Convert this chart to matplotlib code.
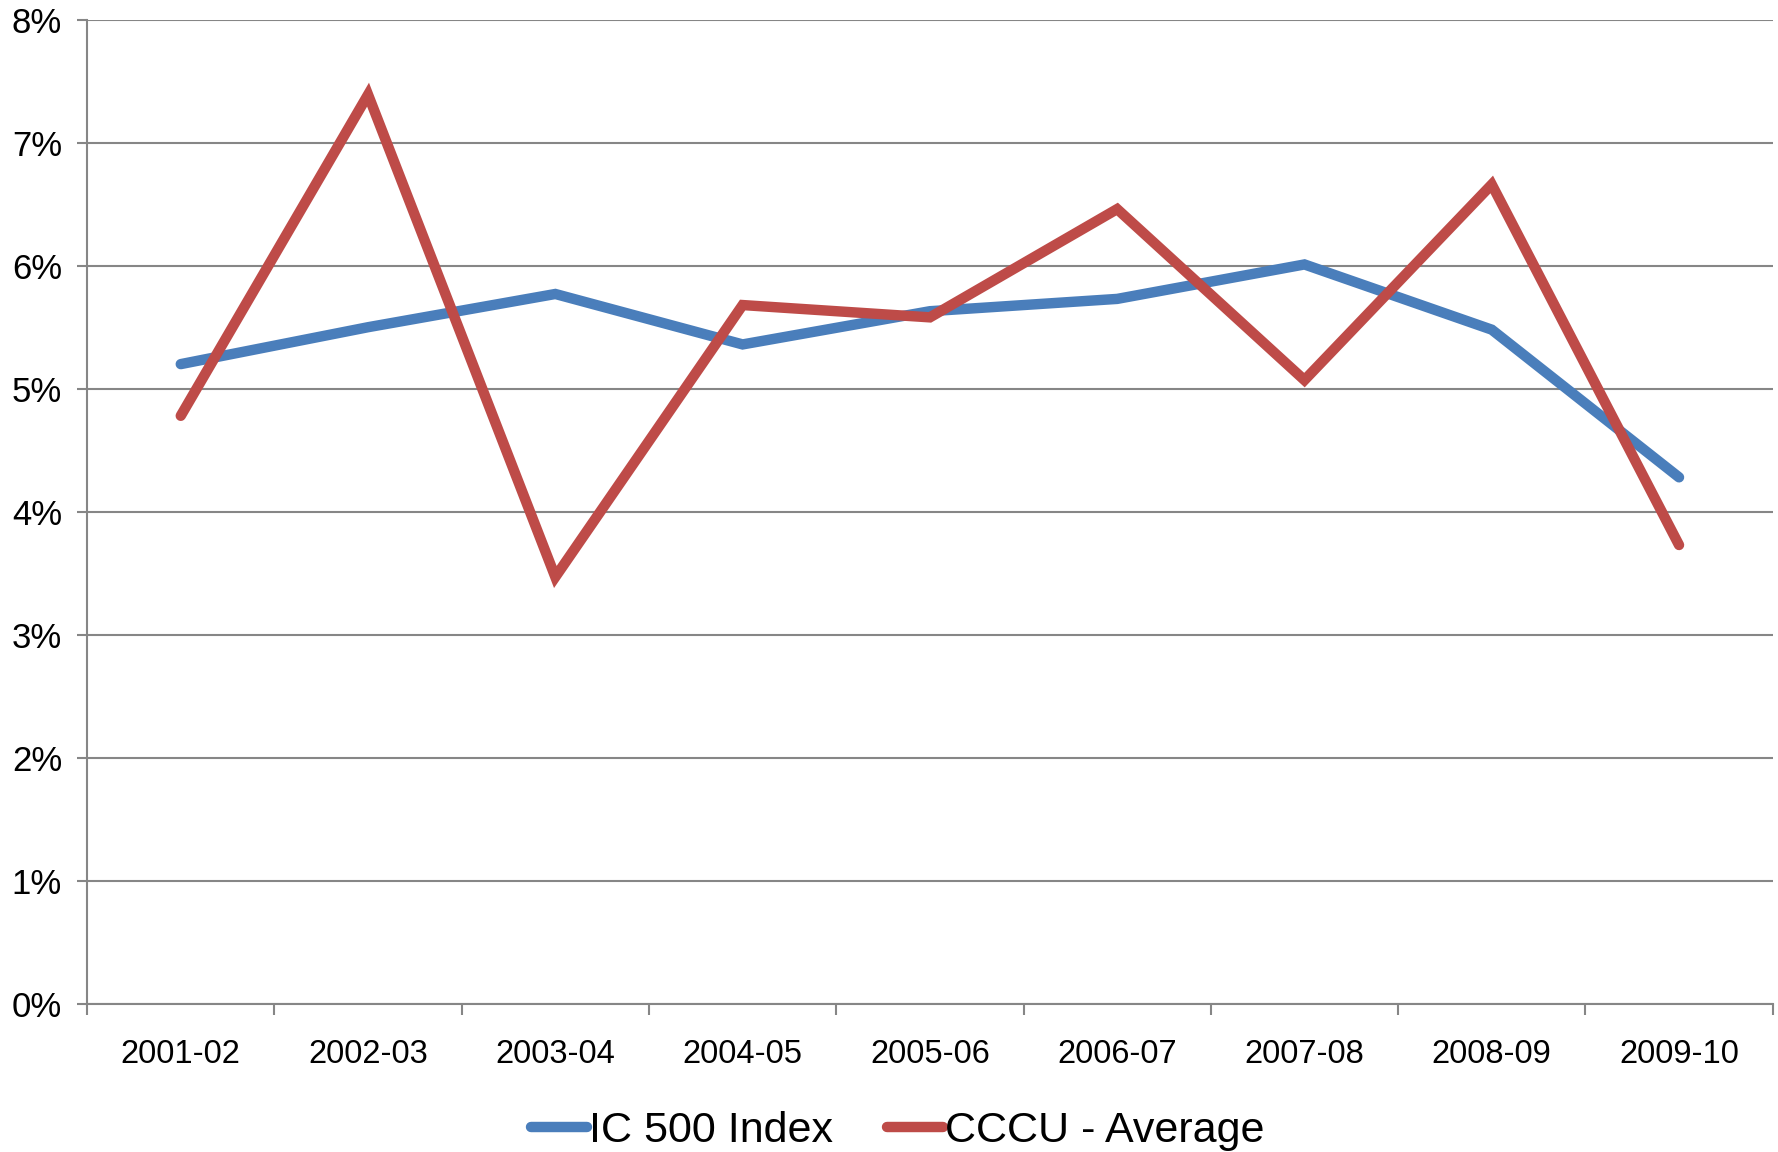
import numpy as np
import matplotlib
matplotlib.use("Agg")
import matplotlib.pyplot as plt
from matplotlib.ticker import FuncFormatter, FixedLocator

# data (percent)
years = ["2001-02", "2002-03", "2003-04", "2004-05", "2005-06",
         "2006-07", "2007-08", "2008-09", "2009-10"]
ic500 = [5.20, 5.50, 5.77, 5.36, 5.63, 5.73, 6.01, 5.48, 4.28]
cccu_avg = [4.78, 7.39, 3.47, 5.68, 5.58, 6.46, 5.07, 6.66, 3.73]

BLUE = "#4A7EBB"; RED = "#BE4B48"; GRID = "#868686"
plt.rcParams.update({"font.family": ["Liberation Sans", "DejaVu Sans"]})

fig = plt.figure(figsize=(17.78, 11.52), dpi=100)
ax = fig.add_axes([0.049, 0.1285, 0.948, 0.8545])

x = np.arange(len(years))
kw = dict(lw=7.5, solid_capstyle="round", solid_joinstyle="miter")
ax.plot(x, np.array(ic500) / 100, color=BLUE, label="IC 500 Index", **kw)
ax.plot(x, np.array(cccu_avg) / 100, color=RED, label="CCCU - Average", **kw)

ax.set_xlim(-0.5, len(years) - 0.5)
ax.set_ylim(0, 0.08)
ax.set_yticks(np.arange(0, 0.081, 0.01))
ax.yaxis.set_major_formatter(FuncFormatter(lambda v, p: f"{v*100:.0f}%"))
ax.grid(axis="y", color=GRID, lw=1.5)
ax.set_axisbelow(True)

ax.set_xticks(x)
ax.set_xticklabels(years)
ax.xaxis.set_minor_locator(FixedLocator(np.arange(-0.5, len(years), 1.0)))
ax.tick_params(axis="x", which="major", length=0, pad=25, labelsize=23.5)
ax.tick_params(axis="x", which="minor", length=8, width=1.5, color=GRID)
ax.tick_params(axis="y", length=7, width=1.5, color=GRID, pad=11, labelsize=25)

for s in ("top", "right"):
    ax.spines[s].set_visible(False)
for s in ("left", "bottom"):
    ax.spines[s].set_color(GRID); ax.spines[s].set_linewidth(1.5)

fig.legend(loc="center", bbox_to_anchor=(0.505, 0.018), ncol=2, frameon=False,
           fontsize=31, handlelength=1.3, handletextpad=0.05, columnspacing=1.25,
           borderpad=0)

fig.savefig("out.png", dpi=100, facecolor="white")
